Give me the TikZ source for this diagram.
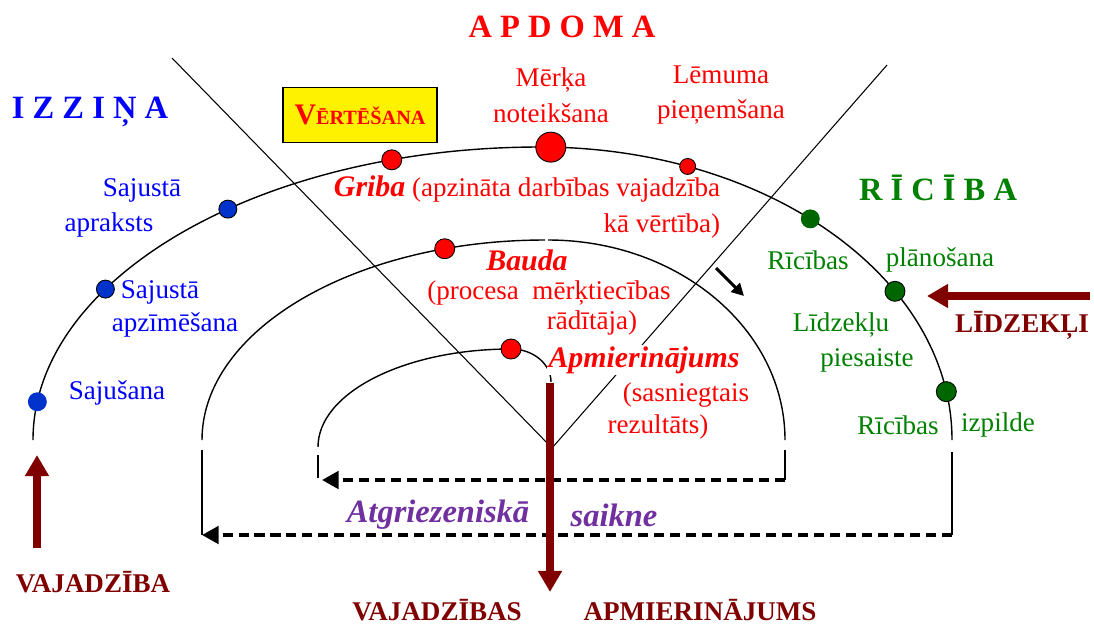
\documentclass[tikz,border=0pt]{standalone}
\usepackage{fontspec}
\setmainfont{Liberation Serif}
\usetikzlibrary{arrows.meta, calc}
\definecolor{apdred}{RGB}{255,0,0}
\definecolor{izzblue}{RGB}{0,0,255}
\definecolor{dotblue}{RGB}{0,51,204}
\definecolor{ricgreen}{RGB}{0,128,0}
\definecolor{dotgreen}{RGB}{0,102,0}
\definecolor{maroon}{RGB}{128,0,0}
\definecolor{fbpurple}{RGB}{112,48,160}
\newcommand{\bodysize}{\fontsize{15.4}{20.4}\selectfont}
\newcommand{\headsize}{\fontsize{18.5}{22}\selectfont}
\newcommand{\accsize}{\fontsize{17}{20}\selectfont}
\tikzstyle{txt} = [inner sep=1pt, font=\bodysize]
\tikzstyle{head} = [inner sep=1pt, font=\headsize\bfseries]
\tikzstyle{acc} = [inner sep=1pt, font=\accsize\bfseries\itshape, text=apdred]
\tikzstyle{dot} = [circle, draw=black, line width=0.5pt, inner sep=0pt, minimum size=0.36cm]
\tikzstyle{bow} = [line width=0.8pt]
\tikzstyle{sector} = [line width=0.6pt]
\tikzstyle{bigarrow} = [line width=5pt, draw=maroon, -{Triangle[length=12pt,width=13pt]}]
\tikzstyle{feedback} = [line width=2pt, dash pattern=on 5.7pt off 3.4pt, -{Triangle[length=9.5pt,width=10pt]}]

\begin{document}
\begin{tikzpicture}[x=0.02cm, y=-0.02cm]
\useasboundingbox (0,0) rectangle (1094,626);

\coordinate (o1) at (540,440);
\coordinate (o2) at (545,440);
\coordinate (o3) at (511,447);
\coordinate (vL) at (172,58);
\coordinate (vR) at (887,65);
\coordinate (vB) at (552,448);

\draw [sector] (vL) -- (vB) -- (vR);

\draw [bow] (33,440) arc[start angle=180, end angle=270, x radius=507, y radius=293]
                     arc[start angle=270, end angle=360, x radius=412, y radius=293];
\draw [bow] (202,440) arc[start angle=180, end angle=270, x radius=343, y radius=200];
\draw [bow] (548,240) arc[start angle=270, end angle=360, x radius=237, y radius=200];
\draw [bow] (318,447) arc[start angle=180, end angle=270, x radius=193, y radius=98]
                      arc[start angle=270, end angle=360, x radius=40, y radius=33];

\coordinate (fbOutR) at (952,535);
\coordinate (fbOutL) at (202,535);
\coordinate (fbInR) at (785,480);
\coordinate (fbInL) at (322,480);
\draw [bow] (952,452) -- (fbOutR);
\draw [bow] (202,450) -- (fbOutL);
\draw [bow] (785,450) -- (fbInR);
\draw [bow] (318,455) -- (318,478);
\draw [feedback] (fbOutR) -- (fbOutL);
\draw [feedback] (fbInR) -- (fbInL);

\node (apdoma) [head, text=apdred] at (562,27) {A P D O M A};
\node (izzina) [head, text=izzblue] at (90,112) {I Z Z I Ņ A};
\node (riciba) [head, text=ricgreen] at (938,188) {R Ī C Ī B A};
\node (vertesana) [draw=black, line width=0.8pt, fill=yellow, minimum width=3.08cm, minimum height=1.1cm, text=apdred, font=\bfseries] at (360,115)
  {{\fontsize{17}{18}\selectfont V}{\fontsize{11.5}{14}\selectfont ĒRTĒŠANA}};

\node (merkis) [txt, text=apdred, align=center] at (551,95) {Mērķa\\noteikšana};
\node (lemums) [txt, text=apdred, align=center] at (721,95) {Lēmuma\\pieņemšana};

\node (aprakstsA) [txt, text=izzblue] at (142,190) {Sajustā};
\node (aprakstsB) [txt, text=izzblue] at (109,225) {apraksts};
\node (apzimA) [txt, text=izzblue] at (160,292) {Sajustā};
\node (apzimB) [txt, text=izzblue] at (175,325) {apzīmēšana};
\node (sajusana) [txt, text=izzblue] at (117,393) {Sajušana};

\node (griba) [txt, text=apdred, align=right] at (527,207) {{\accsize\bfseries\itshape Griba} (apzināta darbības vajadzība\\kā vērtība)};
\node (bauda) [acc] at (527,260) {Bauda};
\node (procesa) [txt, text=apdred] at (549,293) {(procesa\ \ mērķtiecības};
\node (raditaja) [txt, text=apdred] at (592,323) {rādītāja)};
\node (apmier) [acc, fill=white] at (644,360) {Apmierinājums};
\node (sasniegtais) [txt, text=apdred] at (686,395) {(sasniegtais};
\node (rezultats) [txt, text=apdred] at (658,427) {rezultāts)};

\node (planA) [txt, text=ricgreen] at (808,260) {Rīcības};
\node (planB) [txt, text=ricgreen] at (940,260) {plānošana};
\node (piesA) [txt, text=ricgreen] at (841,325) {Līdzekļu};
\node (piesB) [txt, text=ricgreen] at (867,360) {piesaiste};
\node (izpA) [txt, text=ricgreen] at (898,425) {Rīcības};
\node (izpB) [txt, text=ricgreen] at (998,425) {izpilde};

\node (lidzekli) [txt, text=maroon, font=\bodysize\bfseries] at (1022,325) {LĪDZEKĻI};
\node (vajadziba) [txt, text=maroon, font=\bodysize\bfseries] at (93,582) {VAJADZĪBA};
\node (vajadzibas) [txt, text=maroon, font=\bodysize\bfseries] at (437,610) {VAJADZĪBAS};
\node (apmierinajums) [txt, text=maroon, font=\bodysize\bfseries] at (700,610) {APMIERINĀJUMS};
\node (atgrA) [head, font=\headsize\bfseries\itshape, text=fbpurple] at (438,515) {Atgriezeniskā};
\node (atgrB) [head, font=\headsize\bfseries\itshape, text=fbpurple] at (614,515) {saikne};

\node (dSajusana) [dot, fill=dotblue, draw=dotblue] at ($(o1)+(187.5:507 and 293)$) {};
\node (dApzim) [dot, fill=dotblue] at ($(o1)+(211:507 and 293)$) {};
\node (dApraksts) [dot, fill=dotblue] at ($(o1)+(232:507 and 293)$) {};
\node (dGriba) [dot, fill=apdred, minimum size=0.4cm] at ($(o1)+(253:507 and 293)$) {};
\node (dMerkis) [dot, fill=apdred, minimum size=0.6cm] at ($(o1)+(271.5:412 and 293)$) {};
\node (dLemums) [dot, fill=apdred, minimum size=0.32cm] at ($(o1)+(291:412 and 293)$) {};
\node (dPlanA) [dot, fill=dotgreen, draw=dotgreen] at ($(o1)+(311:412 and 293)$) {};
\node (dPlanB) [dot, fill=dotgreen, minimum size=0.4cm] at ($(o1)+(329.5:412 and 293)$) {};
\node (dIzpilde) [dot, fill=dotgreen, minimum size=0.4cm] at ($(o1)+(350.5:412 and 293)$) {};
\node (dBauda) [dot, fill=apdred, minimum size=0.4cm] at ($(o2)+(253:343 and 200)$) {};
\node (dApmier) [dot, fill=apdred, minimum size=0.4cm] at (511,349) {};

\coordinate (needBot) at (37,548);
\coordinate (needTop) at (37,455);
\coordinate (meansR) at (1090,296);
\coordinate (meansL) at (927,296);
\coordinate (satTop) at (550,383);
\coordinate (satBot) at (550,592);
\coordinate (stepA) at (716,268);
\coordinate (stepB) at (744,296);
\draw [bigarrow] (needBot) -- (needTop);
\draw [bigarrow] (meansR) -- (meansL);
\draw [bigarrow] (satTop) -- (satBot);
\draw [line width=1.8pt, -{Triangle[length=7pt,width=7pt]}] (stepA) -- (stepB);

\end{tikzpicture}
\end{document}
